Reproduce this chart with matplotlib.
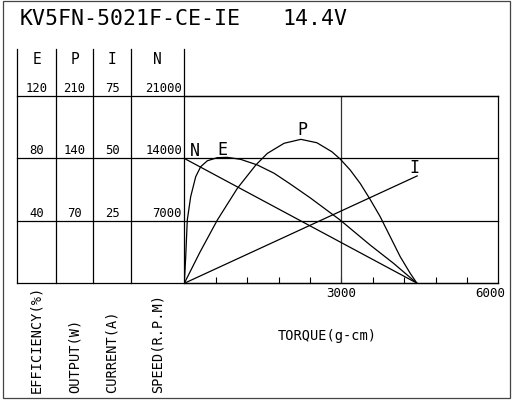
import numpy as np
import matplotlib.pyplot as plt
from matplotlib.lines import Line2D
from matplotlib.patches import Rectangle
from matplotlib.transforms import blended_transform_factory, offset_copy

plt.rcParams['font.family'] = ['DejaVu Sans Mono', 'DejaVu Sans']

# ---------------------------
# data
# ---------------------------
title = "KV5FN-5021F-CE-IE"
voltage = "14.4V"
columns = ["E", "P", "I", "N"]
col_names = ["EFFICIENCY(%)", "OUTPUT(W)", "CURRENT(A)", "SPEED(R.P.M)"]
col_max = [120, 210, 75, 21000]
col_ticks = [[120, 80, 40], [210, 140, 70], [75, 50, 25], [21000, 14000, 7000]]
torque_max = 6000
torque_tick_step = 600
torque_labels = [3000, 6000]
xlabel = "TORQUE(g-cm)"

eff_torque = [0, 27, 57, 122, 218, 313, 440, 632, 823, 1078, 1397, 1716,
              2030, 2404, 2979, 3552, 3998, 4446]
eff = [0, 17, 40.5, 55.5, 68.3, 74.7, 78.5, 80.5, 80.7, 79.4, 75.8, 70.5,
       63.5, 54.8, 40.5, 24.5, 12.8, 0]

out_torque = [0, 300, 632, 1014, 1366, 1588, 1907, 2227, 2533, 2820, 2979,
              3170, 3361, 3552, 3743, 3935, 4126, 4317, 4446]
out_power = [0, 35, 71, 106.5, 132.6, 145.7, 157, 161.4, 157.6, 147.5, 139.3,
             127, 112, 94, 74.7, 52.2, 29.8, 11.2, 0]

cur_torque = [0, 4450]
current = [0, 43]

spd_torque = [0, 4450]
speed = [14000, 0]

# ---------------------------
# layout (pixels of a 516x400 picture)
# ---------------------------
W, H = 516, 400


def fx(px):
    return px / W


def fy(py):
    return 1 - py / H


fig = plt.figure(figsize=(W / 100, H / 100), dpi=100)
fig.patch.set_facecolor('white')

plot_l, plot_r, plot_t, plot_b = 184.3, 498.3, 96, 283.3
pos = [fx(plot_l), fy(plot_b), (plot_r - plot_l) / W, (plot_b - plot_t) / H]

ax = fig.add_axes(pos)  # speed scale (N)
ax.set_xlim(0, torque_max)
ax.set_ylim(0, col_max[3])
for s in ax.spines.values():
    s.set_linewidth(0.9)
ax.set_yticks([])
ax.set_xticks(np.arange(torque_tick_step, torque_max, torque_tick_step))
ax.tick_params(axis='x', direction='in', length=4.5, width=0.8, labelbottom=False)
ax.axvline(3000, color='#333333', lw=0.9)

# extra scales sharing the same box
scale_axes = []
for m in col_max[:3]:
    a = fig.add_axes(pos, sharex=ax)
    a.set_ylim(0, m)
    a.patch.set_alpha(0)
    a.axis('off')
    scale_axes.append(a)
scale_axes.append(ax)
ax_e, ax_p, ax_i, ax_n = scale_axes

lw = 0.9
ax_n.plot(spd_torque, speed, color='black', lw=lw)
ax_i.plot(cur_torque, current, color='black', lw=lw)
ax_e.plot(eff_torque, eff, color='black', lw=lw)
ax_p.plot(out_torque, out_power, color='black', lw=lw)

# curve labels
lab_kw = dict(fontsize=12, va='baseline')
ax_n.text(100, 14300, "N", ha='left', **lab_kw)
ax_e.text(722, 82, "E", ha='center', **lab_kw)
ax_p.text(2252, 166, "P", ha='center', **lab_kw)
ax_i.text(4390, 44, "I", ha='center', **lab_kw)

# table lines on the left
col_lines = [17, 56, 93, 131]
for x in col_lines:
    fig.add_artist(Line2D([fx(x), fx(x)], [fy(49), fy(plot_b)], color='black', lw=0.9))
fig.add_artist(Line2D([fx(plot_l), fx(plot_l)], [fy(49), fy(plot_t)], color='black', lw=0.9))

hl_trans = blended_transform_factory(fig.transFigure, ax_n.transData)
for v in col_ticks[3] + [0]:
    fig.add_artist(Line2D([fx(17), pos[0] + pos[2]], [v, v], transform=hl_trans,
                          color='black', lw=0.9))

col_centers = [36.5, 74.5, 112, 157.5]
for i, a in enumerate(scale_axes):
    fig.text(fx(col_centers[i]), fy(60), columns[i], ha='center', va='center', fontsize=10.5)
    tr = offset_copy(blended_transform_factory(fig.transFigure, a.transData),
                     fig=fig, y=4, units='dots')
    for v in col_ticks[i]:
        if i == 3:
            fig.text(fx(182), v, str(v), ha='right', va='baseline', fontsize=8.8, transform=tr)
        else:
            fig.text(fx(col_centers[i]), v, str(v), ha='center', va='baseline',
                     fontsize=8.8, transform=tr)
    fig.text(fx(col_centers[i]), fy(393), col_names[i], rotation=90,
             ha='center', va='bottom', fontsize=9.8)

# torque labels
xt = blended_transform_factory(ax.transData, fig.transFigure)
ax.text(torque_labels[0], fy(293.5), str(torque_labels[0]), ha='center', va='center',
        fontsize=9, transform=xt)
ax.text(torque_labels[1], fy(293.5), str(torque_labels[1]), ha='center', va='center',
        fontsize=9, transform=offset_copy(xt, fig=fig, x=-8, units='dots'))
fig.text(fx(327.5), fy(336), xlabel, ha='center', va='center', fontsize=9.8)

# title
fig.text(fx(20), fy(25), title, ha='left', va='baseline', fontsize=15.5)
fig.text(fx(282), fy(25), voltage, ha='left', va='baseline', fontsize=15.5)

# outer frame
fig.add_artist(Rectangle((fx(3), fy(398)), fx(510) - fx(3), fy(1) - fy(398),
                         fill=False, edgecolor='#444444', lw=0.9))

fig.savefig('out.png', dpi=100)
